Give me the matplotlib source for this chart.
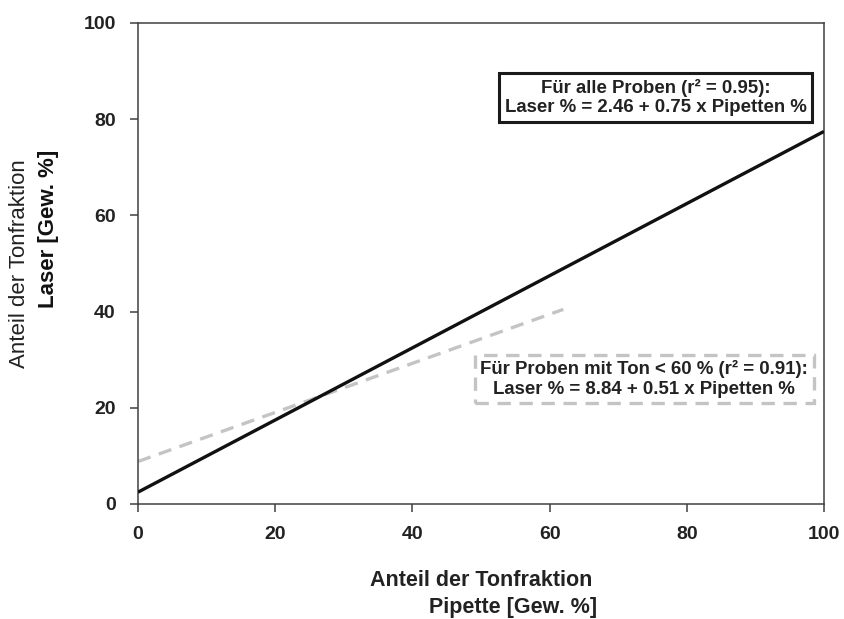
import matplotlib
matplotlib.use("Agg")
import matplotlib.pyplot as plt
import numpy as np

# Regressionsgeraden (aus den Gleichungen im Bild)
alle_x = [0, 100]
alle_b0, alle_b1 = 2.46, 0.75
ton60_x = [0, 62]
ton60_b0, ton60_b1 = 8.84, 0.51

ticks = [0, 20, 40, 60, 80, 100]
tick_labels = ["0", "20", "40", "60", "80", "100"]

text_alle = "Für alle Proben (r² = 0.95):\nLaser % = 2.46 + 0.75 x Pipetten %"
text_ton60 = "Für Proben mit Ton < 60 % (r² = 0.91):\nLaser % = 8.84 + 0.51 x Pipetten %"

plt.rcParams["font.family"] = ["Liberation Sans", "DejaVu Sans"]
txt_col = "#222222"

fig = plt.figure(figsize=(8.44, 6.19), dpi=100)
ax = fig.add_axes([138 / 844, 1 - 504 / 619, 686 / 844, 481 / 619])

y_alle = alle_b0 + alle_b1 * np.array(alle_x)
y_ton60 = ton60_b0 + ton60_b1 * np.array(ton60_x)
ax.plot(ton60_x, y_ton60, color="#c4c4c4", linewidth=2.4, linestyle=(0, (4, 2.6)), zorder=2)
ax.plot(alle_x, y_alle, color="#111111", linewidth=2.4, zorder=3, solid_capstyle="butt")

ax.set_xlim(0, 100)
ax.set_ylim(0, 100)
ax.set_xticks(ticks)
ax.set_yticks(ticks)
ax.set_xticklabels(tick_labels)
ax.set_yticklabels(tick_labels)
ax.tick_params(direction="out", length=6, width=1.1, color="#404040", labelsize=14,
               labelcolor=txt_col, pad=10)
for lab in ax.get_xticklabels() + ax.get_yticklabels():
    lab.set_fontweight("bold")
for sp in ax.spines.values():
    sp.set_color("#404040")
    sp.set_linewidth(1.1)

ax.text(75.5, 84.5, text_alle, ha="center", va="center", fontsize=13.4, fontweight="bold",
        color=txt_col, linespacing=1.2,
        bbox=dict(boxstyle="square,pad=0.3", facecolor="white", edgecolor="#1a1a1a", linewidth=2.2))
ax.text(73.8, 26.0, text_ton60, ha="center", va="center", fontsize=13.4, fontweight="bold",
        color=txt_col, linespacing=1.2,
        bbox=dict(boxstyle="square,pad=0.3", facecolor="white", edgecolor="#c4c4c4",
                  linewidth=2.4, linestyle=(0, (4, 2.6))))

# Achsenbeschriftungen
fig.text(481 / 844, 1 - 580 / 619, "Anteil der Tonfraktion", ha="center", va="center",
         fontsize=15.5, fontweight="bold", color=txt_col)
fig.text(597 / 844, 1 - 608 / 619, "Pipette [Gew. %]", ha="right", va="center",
         fontsize=15.5, fontweight="bold", color=txt_col)
fig.text(20 / 844, 1 - 264 / 619, "Anteil der Tonfraktion", ha="center", va="center",
         rotation=90, fontsize=16, color=txt_col)
fig.text(49 / 844, 1 - 150 / 619, "Laser [Gew. %]", ha="center", va="top",
         rotation=90, fontsize=16, fontweight="bold", color="#111111")

fig.savefig("out.png", dpi=100)
